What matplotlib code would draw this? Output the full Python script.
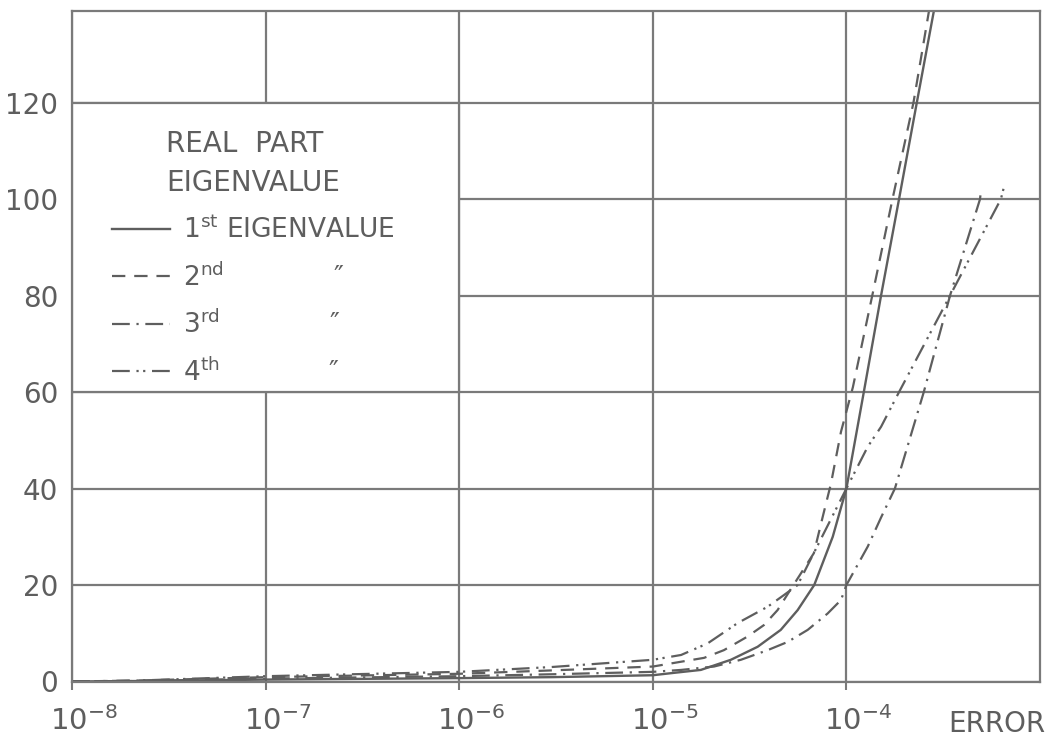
import matplotlib
matplotlib.use("Agg")
import matplotlib.pyplot as plt
import matplotlib.transforms as mtransforms
from matplotlib.patches import Rectangle

# values (error -> real part of eigenvalue)
err_1st = [1e-8, 2.2e-8, 1e-7, 1e-6, 3e-6, 1e-5, 1.29e-5, 1.77e-5, 2.53e-5, 3.48e-5,
           4.58e-5, 5.6e-5, 6.82e-5, 8.5e-5, 1.0e-4, 1.23e-4, 1.51e-4, 1.87e-4,
           2.31e-4, 2.83e-4]
val_1st = [0, 0.1, 0.4, 0.7, 0.9, 1.3, 1.8, 2.4, 4.5, 7.2,
           10.7, 14.8, 20, 30, 40, 60, 80, 100,
           120, 139]

err_2nd = [1e-8, 2.2e-8, 1e-7, 1e-6, 3e-6, 1e-5, 1.4e-5, 1.84e-5, 2.33e-5, 3.08e-5,
           3.75e-5, 4.41e-5, 5.06e-5, 6.79e-5, 7.53e-5, 8.32e-5, 9.38e-5, 1.08e-4,
           1.36e-4, 1.73e-4, 2.22e-4, 2.67e-4]
val_2nd = [0, 0.2, 0.9, 1.6, 2.3, 3.1, 4.1, 4.9, 6.5, 9.3,
           11.7, 14.8, 18.6, 26.6, 34, 41, 51.8, 61,
           80, 100, 120, 139]

err_3rd = [1e-8, 2.2e-8, 1e-7, 1e-6, 3e-6, 1e-5, 1.4e-5, 2.07e-5, 2.85e-5, 3.92e-5,
           4.97e-5, 6.31e-5, 8.0e-5, 9.38e-5, 1.0e-4, 1.29e-4, 1.51e-4, 1.78e-4,
           2.51e-4, 3.43e-4, 4.9e-4, 4.96e-4]
val_3rd = [0, 0.1, 0.6, 1.1, 1.5, 2.0, 2.4, 3.1, 4.5, 6.5,
           8.2, 10.7, 14.1, 16.9, 20, 28, 34, 40,
           60, 80, 100, 102]

err_4th = [1e-8, 2.2e-8, 1e-7, 1e-6, 3e-6, 1e-5, 1.4e-5, 1.92e-5, 2.74e-5, 3.92e-5,
           4.75e-5, 5.6e-5, 1.0e-4, 1.29e-4, 1.51e-4, 1.87e-4, 3.43e-4, 6.28e-4,
           6.53e-4]
val_4th = [0, 0.2, 1.1, 2.0, 3.0, 4.5, 5.5, 7.9, 12.1, 15.5,
           17.9, 20, 40, 48.7, 52.8, 60, 80, 100,
           102.7]

x_ticks = [1e-8, 1e-7, 1e-6, 1e-5, 1e-4]
x_labels = ['$10^{-8}$', '$10^{-7}$', '$10^{-6}$', '$10^{-5}$', '$10^{-4}$']
y_ticks = [0, 20, 40, 60, 80, 100, 120]

ink = '#5e5e5e'
gridc = '#7a7a7a'

plt.rcParams['font.family'] = ['DejaVu Sans']
plt.rcParams['mathtext.default'] = 'regular'

fig = plt.figure(figsize=(10.55, 7.36), dpi=100)
ax = fig.add_axes([72 / 1055, 1 - 681.5 / 736, 968 / 1055, 670.5 / 736])

l1, = ax.plot(err_1st, val_1st, color=ink, lw=1.7, ls='-')
l2, = ax.plot(err_2nd, val_2nd, color=ink, lw=1.6, ls=(0, (6, 4)))
l3, = ax.plot(err_3rd, val_3rd, color=ink, lw=1.6, ls=(0, (8, 3, 1, 3)))
l4, = ax.plot(err_4th, val_4th, color=ink, lw=1.6, ls=(0, (8, 3, 1, 2, 1, 3)))

ax.set_xscale('log')
ax.set_xlim(1e-8, 1e-3)
ax.set_ylim(0, 139)
ax.set_xticks(x_ticks, x_labels)
ax.set_yticks(y_ticks)
ax.minorticks_off()

ax.set_axisbelow(True)
ax.grid(True, color=gridc, lw=1.6)
for s in ax.spines.values():
    s.set_color(gridc)
    s.set_linewidth(1.6)
ax.tick_params(axis='x', length=6, width=1.5, color=gridc, labelsize=21,
               labelcolor=ink, pad=12)
ax.tick_params(axis='y', length=0, labelsize=20, labelcolor=ink, pad=10)

# shift the "10" of each label onto its tick
off = mtransforms.ScaledTranslation(0.12, 0, fig.dpi_scale_trans)
for lab in ax.get_xticklabels():
    lab.set_transform(lab.get_transform() + off)

# blank box behind the key, as in the original sheet
ax.add_patch(Rectangle((1e-8, 60), 1e-6 - 1e-8, 60, facecolor='white',
                       edgecolor=gridc, lw=1.6, zorder=1))

leg = ax.legend([l1, l2, l3, l4],
                ['$1^{st}$ EIGENVALUE',
                 '$2^{nd}$             \u2033',
                 '$3^{rd}$             \u2033',
                 '$4^{th}$             \u2033'],
                title='REAL  PART\nEIGENVALUE', loc='upper left',
                bbox_to_anchor=(0.041, 0.822), frameon=False, fontsize=19,
                title_fontsize=20, handlelength=2.2, handletextpad=0.5,
                labelspacing=0.72, borderpad=0, borderaxespad=0)
for t in leg.get_texts():
    t.set_color(ink)
leg.get_title().set_color(ink)
leg.get_title().set_linespacing(1.5)

fig.text(997 / 1055, 1 - 731.7 / 736, 'ERROR', ha='center', va='baseline',
         fontsize=20, color=ink)

fig.savefig('out.png', dpi=100, facecolor='white')
